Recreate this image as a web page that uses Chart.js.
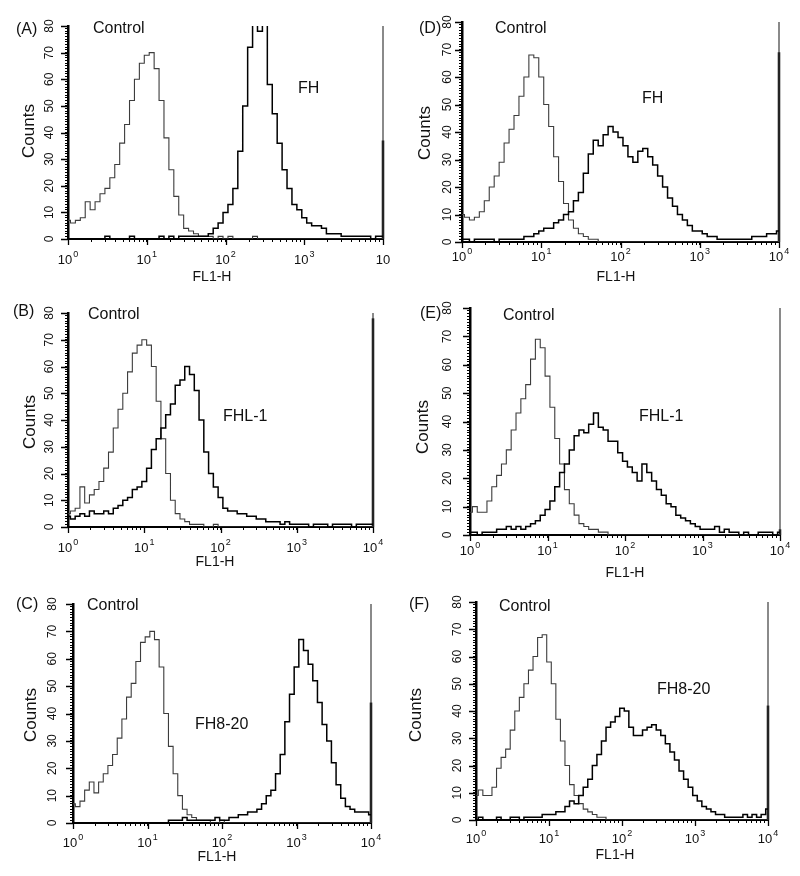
<!DOCTYPE html>
<html>
<head>
<meta charset="utf-8">
<script src="https://cdn.jsdelivr.net/npm/chart.js@4.4.1/dist/chart.umd.min.js"></script>
<style>
  body { margin: 0; background: #fff; }
  #wrap { position: relative; width: 800px; height: 876px; overflow: hidden; }
  #wrap canvas { position: absolute; }
</style>
</head>
<body>
<div id="wrap"></div>
<script>
// log amplifier channels: 16 per decade from 10^0 to 10^4
const channelMantissas = [1, 1.155, 1.334, 1.540, 1.778, 2.054, 2.371, 2.738,
                          3.162, 3.652, 4.217, 4.870, 5.623, 6.494, 7.499, 8.660];
const channelDecades = [1, 10, 100, 1000];
const fl1Channels = channelDecades.flatMap(d => channelMantissas.map(m => +(m * d).toPrecision(4))).concat([10000]);

// y tick labels and x decade labels
const yTickLabels = [0, 10, 20, 30, 40, 50, 60, 70, 80];
const decadeValues = [1, 10, 100, 1000, 10000];
const xTickLabels = [['10', '0'], ['10', '1'], ['10', '2'], ['10', '3'], ['10', '4']];
const xTickLabelsCropped = [['10', '0'], ['10', '1'], ['10', '2'], ['10', '3'], ['10', '']];

// counts per channel
const controlA = [7, 6, 7, 8, 14, 11, 14, 17, 19, 23,
  28, 36, 43, 52, 60, 66, 69, 70, 64, 52,
  38, 26, 16, 9, 4, 3, 2, 1, 1, 1,
  0, 1, 0, 1, 0, 0, 0, 0, 1, 0,
  0, 0, 0, 0, 0, 0, 0, 0, 0, 0,
  0, 0, 0, 0, 0, 0, 0, 0, 0, 0,
  0, 0, 0, 0, 0];
const fhA = [0, 0, 0, 0, 0, 0, 0, 0, 1, 0,
  0, 0, 0, 1, 0, 0, 0, 0, 0, 1,
  0, 1, 0, 1, 1, 1, 1, 1, 1, 2,
  4, 6, 10, 13, 19, 33, 50, 72, 83, 78,
  82, 58, 47, 36, 26, 19, 13, 11, 8, 6,
  5, 5, 4, 2, 2, 2, 1, 1, 1, 1,
  1, 1, 0, 1, 1];

const controlB = [5, 6, 7, 15, 9, 12, 14, 17, 22, 28,
  37, 44, 50, 58, 65, 68, 70, 68, 60, 47,
  33, 20, 10, 5, 3, 2, 1, 1, 1, 0,
  0, 1, 0, 0, 0, 0, 0, 0, 0, 0,
  0, 0, 0, 0, 0, 0, 0, 0, 0, 0,
  0, 0, 0, 0, 0, 0, 0, 0, 0, 0,
  0, 0, 0, 0, 0];
const fhl1B = [4, 3, 4, 5, 4, 6, 5, 5, 6, 5,
  7, 8, 10, 11, 14, 15, 17, 22, 29, 33,
  37, 42, 46, 53, 55, 60, 57, 51, 40, 28,
  20, 15, 11, 7, 6, 6, 5, 5, 4, 4,
  3, 3, 2, 2, 2, 1, 2, 1, 1, 1,
  1, 0, 1, 1, 1, 0, 1, 1, 1, 1,
  0, 1, 1, 1, 1];

const controlC = [7, 6, 8, 12, 15, 11, 15, 18, 21, 25,
  31, 38, 46, 51, 59, 66, 68, 70, 67, 57,
  40, 28, 18, 10, 5, 3, 2, 1, 1, 1,
  0, 0, 1, 0, 0, 0, 0, 0, 0, 0,
  0, 0, 0, 0, 0, 0, 0, 0, 0, 0,
  0, 0, 0, 0, 0, 0, 0, 0, 0, 0,
  0, 0, 0, 0, 0];
const fh820C = [0, 0, 0, 0, 0, 0, 0, 0, 0, 0,
  0, 0, 0, 0, 0, 0, 0, 0, 0, 0,
  0, 1, 1, 1, 2, 1, 1, 1, 1, 1,
  1, 2, 1, 1, 2, 2, 3, 3, 4, 4,
  5, 7, 10, 12, 18, 25, 37, 47, 57, 67,
  63, 58, 52, 44, 36, 30, 22, 14, 9, 6,
  5, 4, 4, 4, 3];

const controlD = [10, 9, 8, 9, 11, 15, 20, 24, 29, 36,
  41, 46, 53, 60, 68, 67, 60, 50, 42, 31,
  22, 14, 8, 5, 3, 2, 1, 1, 0, 0,
  0, 0, 0, 0, 0, 0, 0, 0, 0, 0,
  0, 0, 0, 0, 0, 0, 0, 0, 0, 0,
  0, 0, 0, 0, 0, 0, 0, 0, 0, 0,
  0, 0, 0, 0, 0];
const fhD = [1, 1, 0, 1, 1, 1, 1, 0, 1, 1,
  1, 1, 1, 2, 2, 3, 4, 5, 5, 7,
  8, 10, 11, 15, 18, 25, 32, 37, 35, 39,
  42, 40, 38, 35, 31, 29, 33, 34, 31, 28,
  24, 20, 16, 13, 10, 8, 6, 4, 4, 3,
  2, 2, 1, 1, 1, 1, 1, 1, 1, 2,
  2, 2, 3, 3, 4];

const controlE = [8, 10, 8, 8, 12, 17, 21, 25, 30, 37,
  43, 48, 53, 62, 69, 66, 56, 45, 34, 25,
  16, 11, 7, 4, 3, 2, 2, 1, 1, 0,
  0, 0, 0, 0, 0, 0, 0, 0, 0, 0,
  0, 0, 0, 0, 0, 0, 0, 0, 0, 0,
  0, 0, 0, 0, 0, 0, 0, 0, 0, 0,
  0, 0, 0, 0, 0];
const fhl1E = [1, 1, 0, 1, 1, 1, 2, 2, 3, 2,
  3, 2, 3, 4, 5, 7, 9, 12, 17, 22,
  25, 30, 35, 37, 36, 39, 43, 38, 37, 33,
  33, 29, 26, 24, 22, 19, 25, 22, 19, 16,
  14, 11, 10, 7, 6, 5, 4, 3, 2, 2,
  2, 3, 1, 2, 1, 1, 0, 1, 0, 0,
  1, 1, 1, 0, 1];

const controlF = [9, 11, 9, 9, 12, 19, 23, 26, 33, 40,
  45, 50, 55, 60, 67, 68, 58, 50, 37, 29,
  20, 13, 9, 6, 4, 3, 2, 1, 1, 0,
  0, 0, 0, 0, 0, 0, 0, 0, 0, 0,
  0, 0, 0, 0, 0, 0, 0, 0, 0, 0,
  0, 0, 0, 0, 0, 0, 0, 0, 0, 0,
  0, 0, 0, 0, 0];
const fh820F = [0, 1, 0, 0, 0, 1, 0, 0, 1, 1,
  0, 1, 1, 1, 1, 2, 2, 2, 3, 3,
  5, 7, 6, 9, 12, 15, 20, 24, 29, 34,
  36, 38, 41, 40, 34, 31, 31, 33, 34, 35,
  33, 31, 28, 25, 22, 18, 15, 12, 9, 7,
  5, 4, 3, 2, 2, 1, 1, 1, 1, 2,
  1, 2, 1, 2, 4];

// off-scale events piled into the first / last channel (A, B, C, D, E, F)
const lowEdgeCounts = [41, 42, 42, 44, 40, 44];
const highEdgeControl = [80, 80, 80, 80, 80, 80];
const highEdgeSample = [37, 78, 44, 69, 2, 42];

const FONT = '"Liberation Sans", Arial, Helvetica, sans-serif';
const controlColor = '#3c3c3c';

// x tick positions: 1..9 per decade plus the end; y ticks every count
const xTickValues = channelDecades.flatMap(d => [1, 2, 3, 4, 5, 6, 7, 8, 9].map(k => k * d)).concat([10000]);
const yTickValues = [];
for (let v = 0; v <= 80; v += 1) yTickValues.push(v);

const panels = [
  { letter: '(A)', name: 'FH', control: controlA, sample: fhA, edge: 0, xLabels: xTickLabelsCropped,
    box: [0, 0, 400, 290], area: [68, 26, 383, 239],
    letterPos: [16, 30], controlPos: [93, 29], namePos: [298, 89], countsPos: [29, 131],
    yLabelX: 50, xLabelY: 260, titlePos: [212, 277] },
  { letter: '(D)', name: 'FH', control: controlD, sample: fhD, edge: 3, xLabels: xTickLabels,
    box: [400, 0, 400, 290], area: [462, 22, 779, 242],
    letterPos: [419, 29], controlPos: [495, 29], namePos: [642, 99], countsPos: [425, 133],
    yLabelX: 448, xLabelY: 257, titlePos: [616, 277] },
  { letter: '(B)', name: 'FHL-1', control: controlB, sample: fhl1B, edge: 1, xLabels: xTickLabels,
    box: [0, 290, 400, 290], area: [68, 313, 373, 527],
    letterPos: [13, 312], controlPos: [88, 315], namePos: [223, 417], countsPos: [30, 422],
    yLabelX: 50, xLabelY: 548, titlePos: [215, 562] },
  { letter: '(E)', name: 'FHL-1', control: controlE, sample: fhl1E, edge: 4, xLabels: xTickLabels,
    box: [400, 290, 400, 290], area: [470, 308, 780, 535],
    letterPos: [420, 314], controlPos: [503, 316], namePos: [639, 417], countsPos: [423, 427],
    yLabelX: 448, xLabelY: 551, titlePos: [625, 573] },
  { letter: '(C)', name: 'FH8-20', control: controlC, sample: fh820C, edge: 2, xLabels: xTickLabels,
    box: [0, 580, 400, 296], area: [73, 604, 371, 823],
    letterPos: [16, 605], controlPos: [87, 606], namePos: [195, 725], countsPos: [31, 715],
    yLabelX: 53, xLabelY: 843, titlePos: [217, 857] },
  { letter: '(F)', name: 'FH8-20', control: controlF, sample: fh820F, edge: 5, xLabels: xTickLabels,
    box: [400, 580, 400, 296], area: [476, 602, 768, 820],
    letterPos: [409, 605], controlPos: [499, 607], namePos: [657, 690], countsPos: [416, 715],
    yLabelX: 458, xLabelY: 839, titlePos: [615, 855] }
];

// draws the rotated y labels, 10^n labels, longer major ticks and the panel texts
const flowDecor = {
  id: 'flowDecor',
  afterDraw(chart, args, opts) {
    const ctx = chart.ctx;
    const ox = opts.box[0], oy = opts.box[1];
    const xs = chart.scales.x, ys = chart.scales.y;
    ctx.save();
    ctx.fillStyle = '#111';
    ctx.strokeStyle = '#000';

    ctx.lineWidth = 1.3;
    ctx.beginPath();
    yTickLabels.forEach(v => {
      const py = Math.round(ys.getPixelForValue(v)) + 0.5;
      ctx.moveTo(xs.left - 7, py);
      ctx.lineTo(xs.left, py);
    });
    decadeValues.forEach(v => {
      const px = Math.round(xs.getPixelForValue(v)) + 0.5;
      ctx.moveTo(px, ys.bottom);
      ctx.lineTo(px, ys.bottom + 6);
    });
    ctx.stroke();

    ctx.font = '12px ' + FONT;
    ctx.textAlign = 'center';
    ctx.textBaseline = 'middle';
    yTickLabels.forEach(v => {
      ctx.save();
      ctx.translate(opts.yLabelX - ox, ys.getPixelForValue(v));
      ctx.rotate(-Math.PI / 2);
      ctx.fillText(String(v), 0, 0);
      ctx.restore();
    });

    ctx.textAlign = 'left';
    opts.xLabels.forEach((lab, i) => {
      const px = xs.getPixelForValue(decadeValues[i]);
      ctx.font = '13px ' + FONT;
      const wb = ctx.measureText(lab[0]).width;
      ctx.font = '9px ' + FONT;
      const we = lab[1] ? ctx.measureText(lab[1]).width + 1 : 0;
      const x0 = px - (wb + we) / 2;
      const y = opts.xLabelY - oy;
      ctx.font = '13px ' + FONT;
      ctx.fillText(lab[0], x0, y);
      if (lab[1]) {
        ctx.font = '9px ' + FONT;
        ctx.fillText(lab[1], x0 + wb + 1, y - 5);
      }
    });

    ctx.font = '14px ' + FONT;
    ctx.textAlign = 'center';
    ctx.fillText('FL1-H', opts.titlePos[0] - ox, opts.titlePos[1] - oy);

    ctx.save();
    ctx.font = '17px ' + FONT;
    ctx.translate(opts.countsPos[0] - ox, opts.countsPos[1] - oy);
    ctx.rotate(-Math.PI / 2);
    ctx.fillText('Counts', 0, 0);
    ctx.restore();

    ctx.font = '16px ' + FONT;
    ctx.textAlign = 'left';
    ctx.fillText(opts.letter, opts.letterPos[0] - ox, opts.letterPos[1] - oy);
    ctx.fillText('Control', opts.controlPos[0] - ox, opts.controlPos[1] - oy);
    ctx.fillText(opts.name, opts.namePos[0] - ox, opts.namePos[1] - oy);
    ctx.restore();
  }
};

const wrap = document.getElementById('wrap');
const firstChannel = fl1Channels[0];
const lastChannel = fl1Channels[fl1Channels.length - 1];

panels.forEach(p => {
  const [bx, by, bw, bh] = p.box;
  const [al, at, ar, ab] = p.area;
  const canvas = document.createElement('canvas');
  canvas.width = bw;
  canvas.height = bh;
  canvas.style.left = bx + 'px';
  canvas.style.top = by + 'px';
  wrap.appendChild(canvas);

  const toPoints = arr => fl1Channels.map((x, i) => ({ x: x, y: arr[i] }));

  new Chart(canvas.getContext('2d'), {
    type: 'line',
    data: {
      datasets: [
        { label: p.name, data: toPoints(p.sample), borderColor: '#000', borderWidth: 1.5,
          stepped: 'middle', pointRadius: 0, fill: false },
        { label: 'Control', data: toPoints(p.control), borderColor: controlColor, borderWidth: 1.1,
          stepped: 'middle', pointRadius: 0, fill: false },
        { label: 'low edge', data: [{ x: firstChannel, y: 0 }, { x: firstChannel, y: lowEdgeCounts[p.edge] }],
          borderColor: '#000', borderWidth: 2, pointRadius: 0, clip: false },
        { label: 'high edge control', data: [{ x: lastChannel, y: 0 }, { x: lastChannel, y: highEdgeControl[p.edge] }],
          borderColor: controlColor, borderWidth: 1.2, pointRadius: 0, clip: false },
        { label: 'high edge', data: [{ x: lastChannel, y: 0 }, { x: lastChannel, y: highEdgeSample[p.edge] }],
          borderColor: '#000', borderWidth: 2.5, pointRadius: 0, clip: false }
      ]
    },
    options: {
      responsive: false,
      animation: false,
      events: [],
      layout: { padding: { left: 0, top: at - by, right: bx + bw - ar, bottom: 0 } },
      plugins: {
        legend: { display: false },
        tooltip: { enabled: false },
        flowDecor: {
          box: p.box, letter: p.letter, name: p.name, xLabels: p.xLabels,
          letterPos: p.letterPos, controlPos: p.controlPos, namePos: p.namePos,
          countsPos: p.countsPos, yLabelX: p.yLabelX, xLabelY: p.xLabelY, titlePos: p.titlePos
        }
      },
      scales: {
        x: {
          type: 'logarithmic',
          min: 1,
          max: 10000,
          afterBuildTicks: s => { s.ticks = xTickValues.map(v => ({ value: v })); },
          afterFit: s => { s.height = by + bh - ab; s.paddingLeft = 0; s.paddingRight = 0; },
          ticks: { display: false },
          grid: { display: true, drawOnChartArea: false, drawTicks: true, tickLength: 3, tickColor: '#000', tickWidth: 1 },
          border: { display: true, color: '#000', width: 2 }
        },
        y: {
          type: 'linear',
          min: 0,
          max: 80,
          afterBuildTicks: s => { s.ticks = yTickValues.map(v => ({ value: v })); },
          afterFit: s => { s.width = al - bx; s.paddingTop = 0; s.paddingBottom = 0; },
          ticks: { display: false },
          grid: { display: true, drawOnChartArea: false, drawTicks: true, tickLength: 3, tickColor: '#000', tickWidth: 1 },
          border: { display: true, color: '#000', width: 2.5 }
        }
      }
    },
    plugins: [flowDecor]
  });
});
</script>
</body>
</html>
